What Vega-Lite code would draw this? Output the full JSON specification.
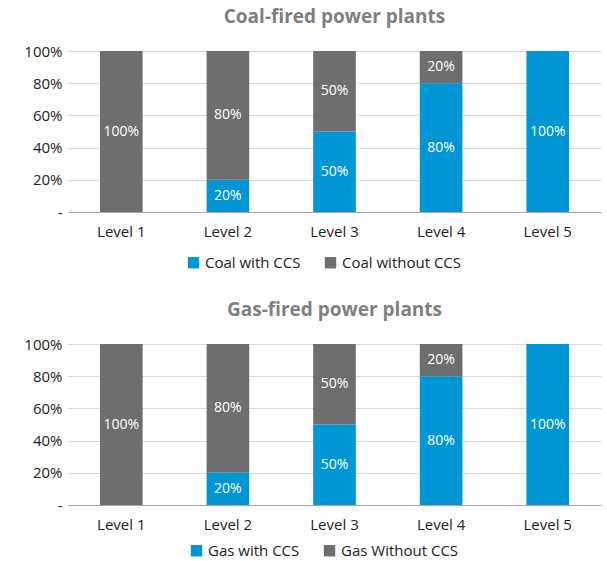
{
  "$schema": "https://vega.github.io/schema/vega-lite/v6.json",
  "padding": {"left": 23, "top": 8, "right": 3, "bottom": 20},
  "background": "white",
  "config": {
    "font": "Open Sans",
    "view": {"stroke": null},
    "title": {"font": "Open Sans", "fontSize": 19, "fontWeight": "bold", "color": "#7f7f7f", "anchor": "middle", "offset": 17},
    "axis": {"labelFont": "Open Sans", "labelFontSize": 14, "labelColor": "#222222", "labelOverlap": false},
    "legend": {"labelFont": "Open Sans", "labelFontSize": 14, "labelColor": "#222222"}
  },
  "datasets": {
    "coal": [
      {"level": "Level 1", "series": "Coal without CCS", "ccs": "without", "share": 1.0},
      {"level": "Level 2", "series": "Coal with CCS", "ccs": "with", "share": 0.2},
      {"level": "Level 2", "series": "Coal without CCS", "ccs": "without", "share": 0.8},
      {"level": "Level 3", "series": "Coal with CCS", "ccs": "with", "share": 0.5},
      {"level": "Level 3", "series": "Coal without CCS", "ccs": "without", "share": 0.5},
      {"level": "Level 4", "series": "Coal with CCS", "ccs": "with", "share": 0.8},
      {"level": "Level 4", "series": "Coal without CCS", "ccs": "without", "share": 0.2},
      {"level": "Level 5", "series": "Coal with CCS", "ccs": "with", "share": 1.0}
    ],
    "gas": [
      {"level": "Level 1", "series": "Gas Without CCS", "ccs": "without", "share": 1.0},
      {"level": "Level 2", "series": "Gas with CCS", "ccs": "with", "share": 0.2},
      {"level": "Level 2", "series": "Gas Without CCS", "ccs": "without", "share": 0.8},
      {"level": "Level 3", "series": "Gas with CCS", "ccs": "with", "share": 0.5},
      {"level": "Level 3", "series": "Gas Without CCS", "ccs": "without", "share": 0.5},
      {"level": "Level 4", "series": "Gas with CCS", "ccs": "with", "share": 0.8},
      {"level": "Level 4", "series": "Gas Without CCS", "ccs": "without", "share": 0.2},
      {"level": "Level 5", "series": "Gas with CCS", "ccs": "with", "share": 1.0}
    ]
  },
  "spacing": 30,
  "resolve": {"scale": {"color": "independent"}, "legend": {"color": "independent"}},
  "vconcat": [
    {
      "title": "Coal-fired power plants",
      "width": 533,
      "height": 161,
      "data": {"name": "coal"},
      "transform": [
        {"stack": "share", "groupby": ["level"], "sort": [{"field": "ccs", "order": "ascending"}], "as": ["v0", "v1"]},
        {"calculate": "(datum.v0 + datum.v1) / 2", "as": "mid"}
      ],
      "encoding": {
        "x": {"field": "level", "type": "nominal", "title": null,
          "scale": {"paddingInner": 0.6, "paddingOuter": 0.3},
          "axis": {"labelAngle": 0, "ticks": false, "domainColor": "#a6a6a6", "labelPadding": 12, "labelFontSize": 15}}
      },
      "layer": [
        {
          "mark": {"type": "bar"},
          "encoding": {
            "y": {"field": "v0", "type": "quantitative", "title": null,
              "scale": {"domain": [0, 1]},
              "axis": {"values": [0, 0.2, 0.4, 0.6, 0.8, 1], "labelOverlap": false, "labelExpr": "datum.value == 0 ? '-' : format(datum.value, '.0%')", "domain": false, "ticks": false, "gridColor": "#d9d9d9", "labelPadding": 6, "labelFontSize": 15}},
            "y2": {"field": "v1"},
            "color": {"field": "series", "type": "nominal",
              "scale": {"domain": ["Coal with CCS", "Coal without CCS"], "range": ["#0096d6", "#6e6e6e"]},
              "legend": {"orient": "none", "legendX": 118, "legendY": 204, "title": null, "direction": "horizontal", "symbolType": "square", "symbolSize": 130, "symbolStrokeWidth": 0, "columnPadding": 22, "labelOffset": 4, "labelFontSize": 15}}
          }
        },
        {
          "mark": {"type": "text", "color": "white", "fontSize": 14, "font": "Open Sans"},
          "encoding": {
            "y": {"field": "mid", "type": "quantitative",
              "axis": {"values": [0, 0.2, 0.4, 0.6, 0.8, 1], "labelOverlap": false, "labelExpr": "datum.value == 0 ? '-' : format(datum.value, '.0%')", "domain": false, "ticks": false, "gridColor": "#d9d9d9", "labelPadding": 6, "labelFontSize": 15}},
            "text": {"field": "share", "type": "quantitative", "format": ".0%"}
          }
        }
      ]
    },
    {
      "title": "Gas-fired power plants",
      "width": 533,
      "height": 161,
      "data": {"name": "gas"},
      "transform": [
        {"stack": "share", "groupby": ["level"], "sort": [{"field": "ccs", "order": "ascending"}], "as": ["v0", "v1"]},
        {"calculate": "(datum.v0 + datum.v1) / 2", "as": "mid"}
      ],
      "encoding": {
        "x": {"field": "level", "type": "nominal", "title": null,
          "scale": {"paddingInner": 0.6, "paddingOuter": 0.3},
          "axis": {"labelAngle": 0, "ticks": false, "domainColor": "#a6a6a6", "labelPadding": 12, "labelFontSize": 15}}
      },
      "layer": [
        {
          "mark": {"type": "bar"},
          "encoding": {
            "y": {"field": "v0", "type": "quantitative", "title": null,
              "scale": {"domain": [0, 1]},
              "axis": {"values": [0, 0.2, 0.4, 0.6, 0.8, 1], "labelOverlap": false, "labelExpr": "datum.value == 0 ? '-' : format(datum.value, '.0%')", "domain": false, "ticks": false, "gridColor": "#d9d9d9", "labelPadding": 6, "labelFontSize": 15}},
            "y2": {"field": "v1"},
            "color": {"field": "series", "type": "nominal",
              "scale": {"domain": ["Gas with CCS", "Gas Without CCS"], "range": ["#0096d6", "#6e6e6e"]},
              "legend": {"orient": "none", "legendX": 121, "legendY": 199, "title": null, "direction": "horizontal", "symbolType": "square", "symbolSize": 130, "symbolStrokeWidth": 0, "columnPadding": 22, "labelOffset": 4, "labelFontSize": 15}}
          }
        },
        {
          "mark": {"type": "text", "color": "white", "fontSize": 14, "font": "Open Sans"},
          "encoding": {
            "y": {"field": "mid", "type": "quantitative",
              "axis": {"values": [0, 0.2, 0.4, 0.6, 0.8, 1], "labelOverlap": false, "labelExpr": "datum.value == 0 ? '-' : format(datum.value, '.0%')", "domain": false, "ticks": false, "gridColor": "#d9d9d9", "labelPadding": 6, "labelFontSize": 15}},
            "text": {"field": "share", "type": "quantitative", "format": ".0%"}
          }
        }
      ]
    }
  ]
}
